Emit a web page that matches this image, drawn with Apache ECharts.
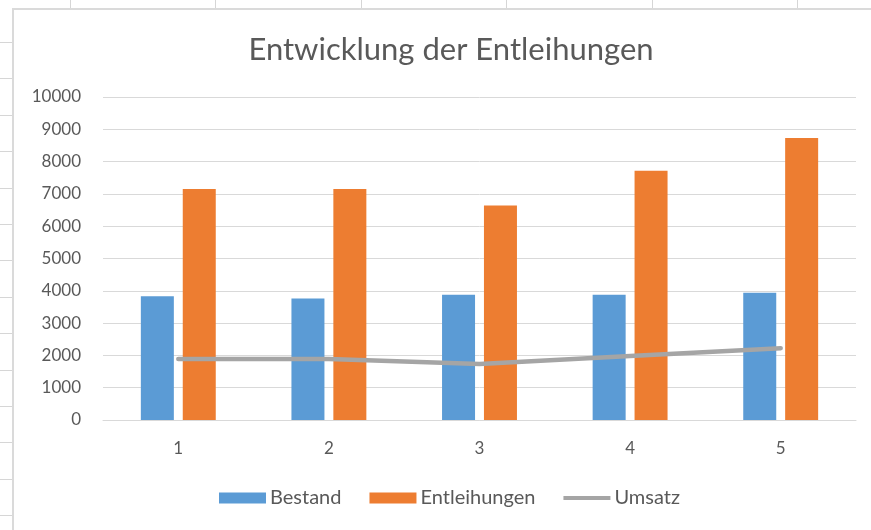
<!DOCTYPE html>
<html>
<head>
<meta charset="utf-8">
<script src="https://cdn.jsdelivr.net/npm/echarts@6/dist/echarts.min.js"></script>
<style>
    html, body { margin: 0; padding: 0; background: #fff; }
    #page { position: relative; width: 871px; height: 530px; overflow: hidden; }
    .cell-v { position: absolute; top: 0; width: 1px; height: 8px; background: #d6d6d6; }
    .cell-h { position: absolute; left: 0; width: 12px; height: 1px; background: #d6d6d6; }
    #chartArea {
        position: absolute; left: 12px; top: 8px; right: -10px; bottom: -10px;
        background: #fff; border-left: 2px solid #dadada; border-top: 2px solid #dadada;
    }
    #main { position: absolute; left: 0; top: 0; width: 871px; height: 530px; }
</style>
</head>
<body>
<div id="page">
    <div id="chartArea"></div>
    <div id="main"></div>
</div>
<script>
    // Werte
    const categories = ['1', '2', '3', '4', '5']
    const bestand = [3830, 3760, 3880, 3880, 3940]
    const entleihungen = [7150, 7150, 6640, 7720, 8730]
    const umsatz = [1885, 1890, 1730, 1985, 2225]
    const yTicks = { min: 0, max: 10000, interval: 1000 }

    // Tabellenraster hinter dem Diagramm (Excel-Zellen)
    const page = document.getElementById('page')
    for (let i = 0; i < 6; i++) {
        const d = document.createElement('div')
        d.className = 'cell-v'
        d.style.left = Math.round(70 + i * 145.4) + 'px'
        page.insertBefore(d, page.firstChild)
    }
    for (let i = 0; i < 14; i++) {
        const d = document.createElement('div')
        d.className = 'cell-h'
        d.style.top = Math.round(42 + i * 36.4) + 'px'
        page.insertBefore(d, page.firstChild)
    }

    const font = 'Lato, "Open Sans", sans-serif'
    const chart = echarts.init(document.getElementById('main'))
    chart.setOption({
        backgroundColor: 'transparent',
        animation: false,
        textStyle: { fontFamily: font },
        title: {
            text: 'Entwicklung der Entleihungen',
            left: 446,
            top: 29,
            textAlign: 'center',
            textStyle: { fontFamily: font, fontSize: 31, fontWeight: 'normal', color: '#595959' }
        },
        legend: {
            bottom: 17,
            left: 214,
            itemWidth: 47,
            itemHeight: 11,
            itemGap: 28,
            textStyle: { fontFamily: font, fontSize: 20, color: '#595959', padding: [0, 0, 0, -1] },
            data: [
                { name: 'Bestand', icon: 'rect' },
                { name: 'Entleihungen', icon: 'rect' },
                { name: 'Umsatz', icon: 'path://M0,0 H47 V4 H0 Z' }
            ]
        },
        grid: { left: 103, right: 15, top: 97, bottom: 110, containLabel: false },
        xAxis: {
            type: 'category',
            data: categories,
            axisLine: { lineStyle: { color: '#d9d9d9', width: 1 } },
            axisTick: { show: false },
            axisLabel: { color: '#595959', fontSize: 17, margin: 20, fontFamily: font }
        },
        yAxis: {
            type: 'value',
            min: yTicks.min,
            max: yTicks.max,
            interval: yTicks.interval,
            axisLine: { show: false },
            axisTick: { show: false },
            axisLabel: {
                color: '#595959', fontSize: 17, margin: 22, fontFamily: font,
                formatter: v => String(v)
            },
            splitLine: { lineStyle: { color: '#d9d9d9', width: 1 } }
        },
        series: [
            {
                name: 'Bestand',
                type: 'bar',
                data: bestand,
                barWidth: 33,
                barGap: '27%',
                itemStyle: { color: '#5b9bd5' }
            },
            {
                name: 'Entleihungen',
                type: 'bar',
                data: entleihungen,
                barWidth: 33,
                barGap: '27%',
                itemStyle: { color: '#ed7d31' }
            },
            {
                name: 'Umsatz',
                type: 'line',
                data: umsatz,
                symbol: 'none',
                lineStyle: { color: '#a5a5a5', width: 4.5, cap: 'round' },
                itemStyle: { color: '#a5a5a5' }
            }
        ]
    })
</script>
</body>
</html>
